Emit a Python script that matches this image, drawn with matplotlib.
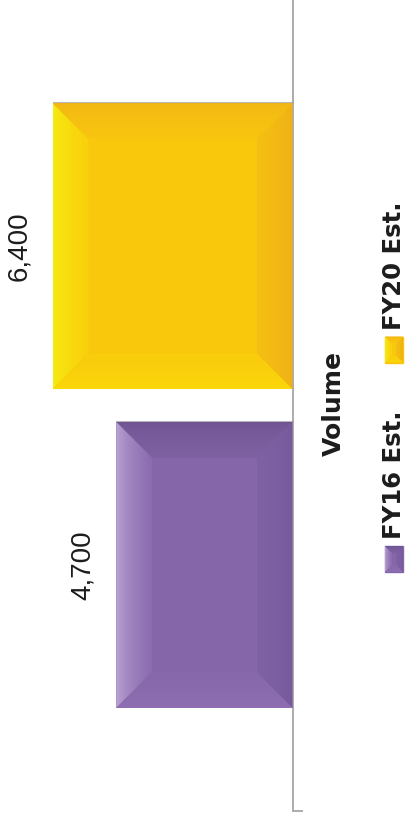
"""Volume estimate, FY16 vs FY20, drawn as a sideways bevelled bar chart."""

import numpy as np
import matplotlib
matplotlib.use("Agg")
import matplotlib.pyplot as plt
from matplotlib.colors import LinearSegmentedColormap
from matplotlib.patches import Polygon

W, H, DPI = 407, 821, 100

category = "Volume"
series = ["FY16 Est.", "FY20 Est."]
values = [4700, 6400]
value_labels = ["4,700", "6,400"]

# face colour plus (outer, inner) shade of each bevel edge
SHADES = {
    "FY16 Est.": {
        "face": "#8466a9",
        "left": ("#c0aad7", "#8a6caf"),
        "top": ("#6e5291", "#7e61a1"),
        "right": ("#74589b", "#7f62a4"),
        "bottom": ("#8e70b3", "#8668ab"),
    },
    "FY20 Est.": {
        "face": "#f9c80d",
        "left": ("#f5ef12", "#f9d10c"),
        "top": ("#f2b517", "#f8c50f"),
        "right": ("#eeae18", "#f5bf12"),
        "bottom": ("#fbd90a", "#f9cc0d"),
    },
}
AXIS_GREY = "#a6a6a6"
TEXT = "#1c1c1c"


def bevel(ax, x0, y0, x1, y1, shades, b):
    """Paint four shaded trapezoids over a rectangle given in pixels."""
    quads = {
        "left": [(x0, y0), (x0 + b, y0 + b), (x0 + b, y1 - b), (x0, y1)],
        "right": [(x1, y0), (x1 - b, y0 + b), (x1 - b, y1 - b), (x1, y1)],
        "top": [(x0, y1), (x0 + b, y1 - b), (x1 - b, y1 - b), (x1, y1)],
        "bottom": [(x0, y0), (x0 + b, y0 + b), (x1 - b, y0 + b), (x1, y0)],
    }
    t = np.linspace(0, 1, 64) ** 0.55
    for side, pts in quads.items():
        outer, inner = shades[side]
        cmap = LinearSegmentedColormap.from_list(side, [outer, inner])
        if side == "left":
            img, ext = t[None, :], (x0, x0 + b, y0, y1)
        elif side == "right":
            img, ext = t[::-1][None, :], (x1 - b, x1, y0, y1)
        elif side == "top":
            img, ext = t[:, None], (x0, x1, y1 - b, y1)
        else:
            img, ext = t[::-1][:, None], (x0, x1, y0, y0 + b)
        im = ax.imshow(img, cmap=cmap, vmin=0, vmax=1, extent=ext,
                       aspect="auto", interpolation="bilinear", zorder=2)
        im.set_clip_path(Polygon(pts, closed=True, transform=ax.transData))


fig = plt.figure(figsize=(W / DPI, H / DPI), dpi=DPI)
fig.patch.set_facecolor("white")

ax = fig.add_axes([0, 10 / H, 292.5 / W, 811 / H])
bar_h = 0.353
offsets = [-0.1965, 0.1965]
bars = ax.barh(offsets, values, height=bar_h,
               color=[SHADES[s]["face"] for s in series], zorder=2)
ax.set_xlim(7800, 0)
ax.set_ylim(-0.5, 0.5)

for side in ("left", "top", "bottom"):
    ax.spines[side].set_visible(False)
ax.spines["right"].set_color(AXIS_GREY)
ax.spines["right"].set_linewidth(1.3)
ax.set_xticks([])
ax.yaxis.tick_right()
ax.set_yticks([-0.5])
ax.tick_params(axis="y", length=7.5, width=1.3, color=AXIS_GREY,
               labelright=False, direction="out")

for v, y, lab in zip(values, offsets, value_labels):
    ax.annotate(lab, xy=(v, y), xytext=(-20, 0), textcoords="offset pixels",
                rotation=90, ha="right", va="center", fontsize=20,
                family="Liberation Sans", color=TEXT)

ax.annotate(category, xy=(1, 0), xycoords=("axes fraction", "data"),
            xytext=(41.5, 2.5), textcoords="offset pixels", rotation=90,
            ha="center", va="center", fontsize=18, fontweight="bold",
            family="DejaVu Sans", color=TEXT)

# pixel-space overlay for the bevels and the legend keys
ov = fig.add_axes([0, 0, 1, 1], zorder=3)
ov.patch.set_alpha(0)
ov.axis("off")

for s, bar in zip(series, bars):
    bb = bar.get_window_extent()
    bevel(ov, bb.x0, bb.y0, bb.x1, bb.y1, SHADES[s], 36)
    ov.plot([bb.x0, bb.x1], [bb.y1 + 0.5, bb.y1 + 0.5], color="#9a9a9a",
            lw=0.8, alpha=0.7, zorder=3)

renderer = fig.canvas.get_renderer()
cursor = 249
key_w, key_h, gap_text, gap_next = 18, 26, 7, 48
x_key = 385
for s in series:
    face = SHADES[s]["face"]
    ov.add_patch(plt.Rectangle((x_key, cursor), key_w, key_h, color=face,
                               zorder=2))
    bevel(ov, x_key, cursor, x_key + key_w, cursor + key_h, SHADES[s], 7)
    cursor += key_h + gap_text
    txt = ov.text(x_key + key_w / 2, cursor, s, rotation=90, ha="center",
                  va="bottom", fontsize=17.6, fontweight="bold",
                  family="DejaVu Sans", color=TEXT)
    cursor += txt.get_window_extent(renderer).height + gap_next

ov.set_xlim(0, W)
ov.set_ylim(0, H)

fig.savefig("out.png", dpi=DPI, facecolor="white")
